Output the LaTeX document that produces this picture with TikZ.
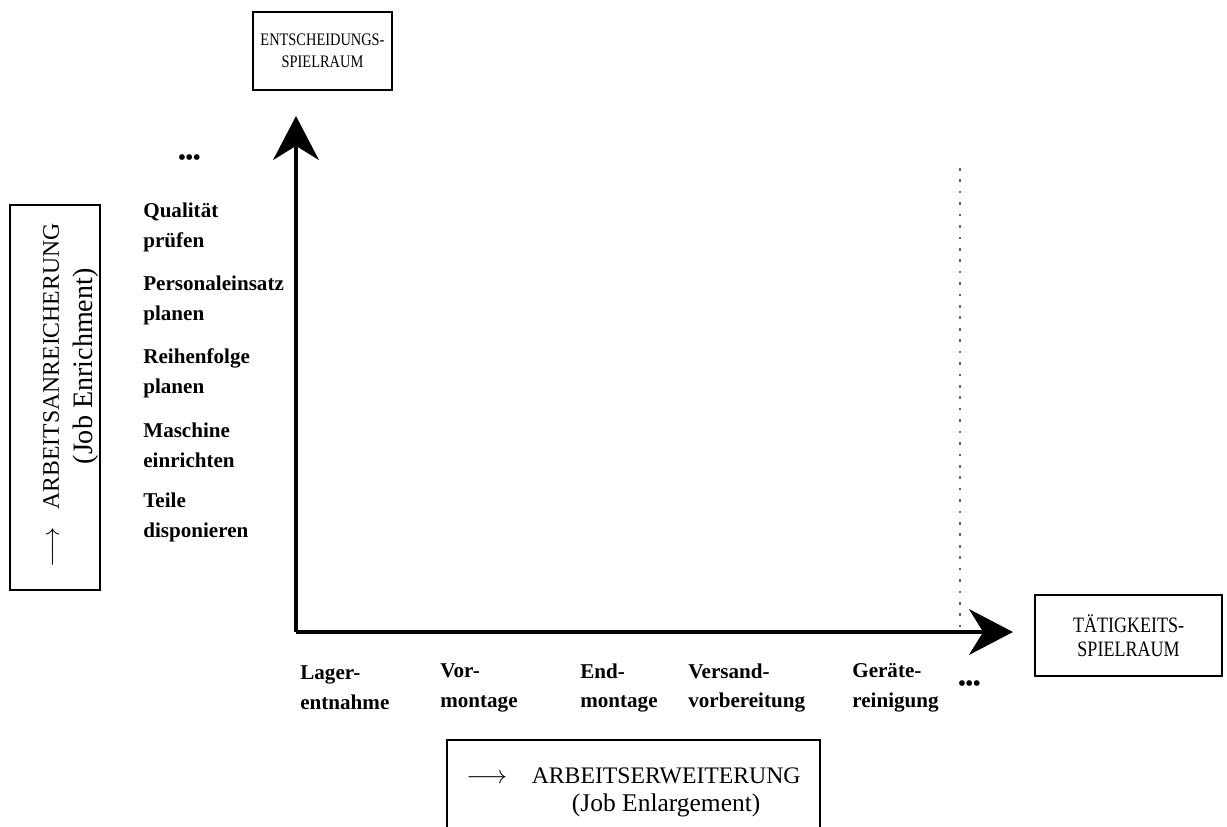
\documentclass[tikz,border=0pt]{standalone}
\usepackage{fontspec}
\setmainfont{Liberation Serif}
\newfontfamily\boxfont[FakeStretch=0.82]{Liberation Serif}
\usepackage{tikz}
\usetikzlibrary{arrows.meta,calc}

\begin{document}
\begin{tikzpicture}[x=0.02cm,y=-0.02cm,>={Stealth[length=25pt,width=26pt,inset=8pt]}]
	\tikzstyle{axis}=[line width=2.2pt,->]
	\tikzstyle{box}=[draw,line width=1pt,inner sep=0pt,align=center]
	\tikzstyle{task}=[anchor=west,align=left,inner sep=0pt,font=\bfseries\fontsize{12}{17}\selectfont]

	\clip (0,0) rectangle (1227,826);

	\coordinate (O) at (296,632);
	\coordinate (ytip) at (296,116);
	\coordinate (xtip) at (1013,632);

	\draw [axis] (O) -- (ytip);
	\draw [axis] (O) -- (xtip);
	\draw [line width=0.9pt,gray!80!black,dash pattern=on 1.5pt off 5pt] ($(O)+(664,-464)$) -- ($(O)+(664,-4)$);

	\node (ent) [box, minimum width=2.78cm, minimum height=1.56cm, font=\boxfont\fontsize{10}{12.5}\selectfont] at (322.5,51) {ENTSCHEIDUNGS-\\SPIELRAUM};
	\node (tat) [box, minimum width=3.74cm, minimum height=1.62cm, font=\boxfont\fontsize{12.5}{13.6}\selectfont] at (1128.5,635.5) {\raisebox{-4pt}{TÄTIGKEITS-}\\[0pt]\raisebox{-4pt}{SPIELRAUM}};

	\node (anr) [box, minimum width=1.8cm, minimum height=7.7cm] at (55,397.5) {};
	\node (anrtext) [rotate=90, inner sep=0pt, font=\fontsize{13.5}{19}\selectfont] at ($(anr.center)+(14,-2)$)
		{\begin{tabular}{@{}c@{\hspace{10pt}}c@{}}$\longrightarrow$ & ARBEITSANREICHERUNG\\ & \fontsize{16}{19}\selectfont(Job Enrichment)\end{tabular}};
	\node (erw) [box, minimum width=7.46cm, minimum height=2.08cm, font=\fontsize{13.5}{16}\selectfont] at (633.5,792)
		{\begin{tabular}{@{}c@{\hspace{14pt}}c@{}}$\longrightarrow$ & ARBEITSERWEITERUNG\\ & \fontsize{14.5}{16}\selectfont(Job Enlargement)\end{tabular}};

	% Entscheidungen
	\node (ymore) [task] at (178,160) {\textbullet\textbullet\textbullet};
	\node (y5) [task] at (143,227) {Qualität\\prüfen};
	\node (y4) [task] at (143,300) {Personaleinsatz\\planen};
	\node (y3) [task] at (143,373) {Reihenfolge\\planen};
	\node (y2) [task] at (143,445) {Maschine\\einrichten};
	\node (y1) [task] at (143,517) {Teile\\disponieren};

	% Taetigkeiten
	\node (x1) [task] at (300,688) {Lager-\\entnahme};
	\node (x2) [task] at (440,688) {Vor-\\montage};
	\node (x3) [task] at (580,688) {End-\\montage};
	\node (x4) [task] at (688,688) {Versand-\\vorbereitung};
	\node (x5) [task] at (852,688) {Geräte-\\reinigung};
	\node (xmore) [task] at (958,686) {\textbullet\textbullet\textbullet};
\end{tikzpicture}
\end{document}
